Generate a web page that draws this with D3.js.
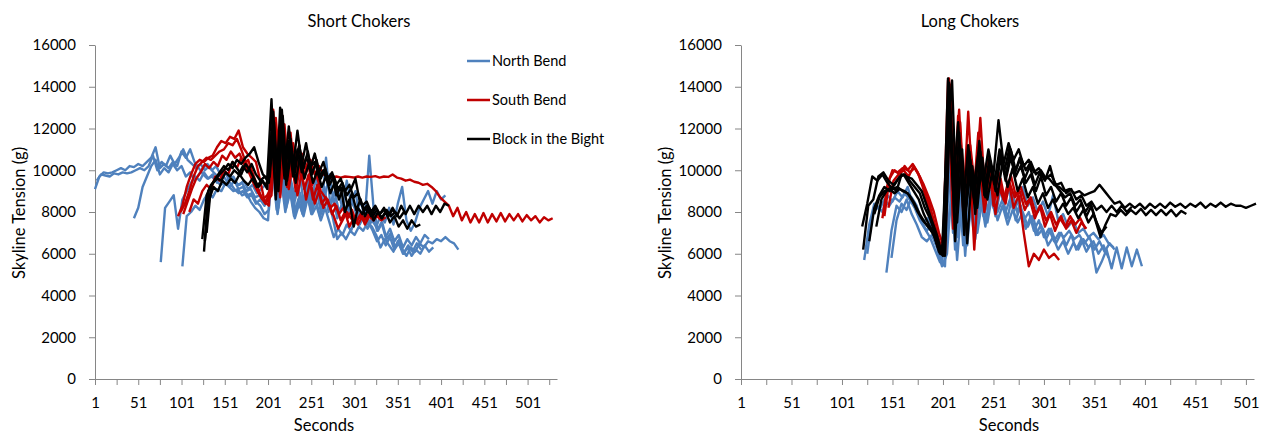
<!DOCTYPE html>
<html>
<head>
<meta charset="utf-8">
<script src="https://cdn.jsdelivr.net/npm/d3@7.9.0/dist/d3.min.js"></script>
<style>
  body { margin: 0; background: #fff; }
  text { font-family: Lato, "Liberation Sans", sans-serif; fill: #000; }
</style>
</head>
<body>
<svg id="chart" width="1261" height="435"></svg>
<script>
// sampling interval of every series (seconds)
const STEP = 5;

const groups = ['North Bend', 'South Bend', 'Block in the Bight'];
const yTicks = [0, 2000, 4000, 6000, 8000, 10000, 12000, 14000, 16000];
const xLabels = [1, 51, 101, 151, 201, 251, 301, 351, 401, 451, 501];

// ---- Short chokers ----
// North Bend
const snb1 = [9100,9700,9900,9850,9900,10000,10100,10000,10200,10150,10300,10200,10400,10600,11100,10100,10300,10100,10400,10200,10900,10600,11000,10400,10100,9800,9600,9700,9500,9300,9400,9200,9000,9100,8800,8900,8500,8200,8000,7700,7600,10900,8300,10100,8700,9800,8400,9200,8100,8900,7900,8600,7800,8300,8500,7700,6700,7000,6700,7100,6900,7300,7100,7500,7300,6900,6300,6700,6400,6100,6600,6200,5900,6300,6100,6500,6300,6600,6500,6700,6600,6800,6600,6500,6200];
const snb2 = [9500,9800,9750,9700,9850,9800,9900,9850,9900,10000,10100,10000,10200,10700,10000,10400,10200,10700,10300,10600,11000,10500,10300,10100,10300,10000,10200,9900,9700,9800,9500,9700,9400,9300,9500,9100,9300,8900,9100,9300,9500,11600,8200,10500,8600,9300,8000,8900,8100,9600,8300,9000,8100,10600,8300,9000,8000,8500,7800,8700,8000,8500,7800,10700,8200,7100,7500,6700,7000,6300,6700,6000,6400,6100,6500,6200];
const snb3 = [7700,8200,9200,9700,10200,10500,9800,10100,9900,10300,10000,10200,9700,9900,9500,9800,10100,10300,10000,10200,9800,10000,9500,9700,9300,9400,9000,9100,8700,8800,8500,8600,10200,8100,9600,8000,9100,7800,8600,7900,9300,8200,9700,8400,9200,8000,8800,7700,8300,7900,8600,8200,7400,7700,7200,7600,7300,7800,7500,8200,7400,8400,9200,7600,7100,7500,8200,8600,9000,8400,9000,8600,8800];
const snb4 = [5600,8200,8500,8800,7200,8600,9000,9400,9700,9500,9900,9600,9800,9400,9600,9300,9400,9100,8900,9000,8700,8800,8400,8600,8300,8800,9900,7900,9400,8200,9000,7700,8400,7800,8700,7900,8300,7600,8200,7500,6800,7200,6900,7400,7100,7700,7400,7900,7500,7100,6600,6900,6400,6800,6200,6500,6000,6300,5900,6200,6000,6400,6100,6300];
const snb5 = [5400,7800,8000,8300,8100,8600,8900,8700,9100,9000,9400,9200,9500,9100,9200,8800,8900,8500,8300,7900,8100,11200,8800,10400,8400,9600,8700,10000,8500,9400,8200,9100,8000,8800,9800,8400,9000,8200,9500,8400,9000,7700,8200,7400,7900,7100,7500,6800,7200,6600,6900,6300,6700,6400,6800,6500,6900,6700];
// South Bend
const ssb1 = [8000,8400,9000,9700,10200,10400,10600,10500,10700,10900,11000,11300,11200,11500,11000,10400,10000,9500,9000,8600,8800,9200,12500,9800,12200,9700,11300,10000,10800,9900,10500,9800,10200,9800,9700,9650,9700,9650,9700,9680,9650,9700,9650,9700,9680,9720,9650,9700,9680,9800,9650,9600,9500,9550,9450,9400,9300,9350,9200,9000,8700,8500,8300,7800,8200,7600,8000,7500,7900,7500,7950,7500,7900,7550,7950,7550,7900,7600,7900,7550,7850,7600,7800,7500,7750,7600,7700];
const ssb2 = [7800,8300,9200,9800,10300,10500,10400,10600,10700,11100,11400,11300,11600,11500,11900,11100,10800,10600,10400,9500,8500,8300,12900,9500,12700,9800,11800,9500,11200,9600,10400,9300,9800,9000,8700,8300,7800,7200,7600,8000,7700,7500,7800,7600,7900,7700,7800,7600,7750];
const ssb3 = [7900,8500,9100,9600,9900,10300,10100,10400,10200,10700,10500,10900,10600,10800,10300,10500,9900,9300,8700,8400,9000,11600,9000,11000,9200,10600,9000,10200,9100,9800,8600,9300,8400,8700,8200,8400,7900,8200,7700,8100,7500,7900,7400,7800,7600,7900,7700];
const ssb4 = [8000,8600,8400,9000,9300,9100,9700,9500,10000,9800,10400,10100,10600,10200,9800,9300,8900,8600,8500,8800,12000,8700,11000,9100,10400,8800,9900,8600,9500,8400,9000,8200,8600,7900,8300,7600,8000,7300,7700,7400,7800,7600,8000,7700];
// Block in the Bight
const sbb1 = [6700,8800,9300,9500,9800,10000,10300,10100,10500,10300,10600,10800,11100,10400,9800,9600,13400,8600,13000,9800,12100,10200,11900,10300,11300,10100,10800,9900,10400,9600,9900,9300,9600,9000,9300,8700,8900,8300,8500,8000,8300,7900,8200,7800,8200,7800,8300,7900,8300,7900,8300,8000,8300,7900,8300,8000,8400,8300];
const sbb2 = [6100,9000,9400,9600,9500,9900,9700,10000,9800,10200,9900,10300,9800,9500,9700,9400,12800,9200,12900,9300,11500,9900,11200,10100,10900,9800,10500,9600,10100,9300,9700,9100,9400,8800,9100,9600,8500,8200,8000,7800,8100,7700,8000,7500,7800,7300,7600,7200,7600,7300,7400];
const sbb3 = [6600,8600,9200,9000,9500,9300,9600,9400,9800,9500,9300,9600,9200,9500,9300,9700,12300,9000,12600,9500,11000,9400,10700,9600,10300,9400,10000,9200,9700,8900,9400,8600,9200,8300,8900,8100,8600,7800,8200,7600,8000,7700,8100,7800,8000,7700,8000];
const sbb4 = [7000,9200,9600,9900,10200,10000,10400,10100,9800,10300,10000,9600,9200,9500,9100,11800,8800,12200,9600,11400,9700,11000,9900,10600,10200,10400,9700,10000,9400,9800,8800,9200,8000,8600,7300,8200,7900,8300,7800,8200,7900,8100,7800,8100,7900];

// ---- Long chokers ----
// North Bend
const lnb1 = [5700,7400,8400,8100,8600,8300,8700,8500,8900,8600,8200,7600,7200,6800,6200,5600,5400,11000,6200,9800,5900,9200,6700,8800,7300,9000,7800,9100,8000,8700,7600,8300,7200,7800,6900,7400,6700,7200,6500,7000,6400,6900,6200,6700,6100,6500,5100,5600,6200,5300,6300,5300,6300,5400,6200,5400];
const lnb2 = [6000,7800,8300,8000,8800,8500,9000,8700,9200,8400,8000,7500,7700,7000,6300,5900,10500,7000,10000,6400,9500,7200,9700,7800,9200,8200,9500,8400,9100,8000,8600,7600,8000,7100,7600,6800,7200,6600,7000,6800,7100,6700,6900,6500,6800,6200,6600,6100,6500,6200];
const lnb3 = [5100,7100,8300,8000,8600,7900,7400,6800,6600,6900,6300,5400,6000,9500,5700,8800,6400,9200,7000,8600,7500,8900,7600,8300,7400,8100,7500,8000,7300,7800,6900,7200,6400,6800,6200,6600,6000,6500,6200,6700,6300,6600,6000,6400,5800];
const lnb4 = [5800,7600,8400,8100,8700,8300,7500,7100,7400,6600,5600,7200,8800,6800,9300,7100,8400,7900,9000,8100,9200,8000,8600,7700,8900,7900,9200,8300,8700,8000,8500,7800,8800,7600,7900,7300,7600,7000,7200,6800,7000,6700,6900,6500,6300];
// South Bend
const lsb1 = [7700,9300,10000,9900,10100,10000,10300,9900,9200,8400,7600,6800,6100,14300,7200,12600,8000,12800,8500,11800,8900,10700,8300,9900,8600,9500,8200,8800,7000,5400,6000,5700,6200,5800,6000,5700];
const lsb2 = [7800,9600,10000,9800,10200,9900,10100,9700,9000,8300,7400,6400,6000,14100,8700,12300,7900,11200,9000,12500,8500,10200,7900,9600,8400,9800,8800,9200,8400,8700,7900,8300,7600,8000,7400,7800,7200,7600,7000,7500,7200];
const lsb3 = [8200,9500,9800,10000,9700,10200,9800,9300,8700,8000,7000,6300,14400,9000,12900,8300,11000,6200,10300,8000,9500,8600,9100,8500,9400,8700,9000,8100,8600,7700,8300,7300,7900,7100,7700,7300,7800,7400,7700,7200];
// Block in the Bight
const lbb1 = [7300,8400,9700,9500,9800,9400,9100,9200,9000,8900,8500,8000,7600,7300,7000,6300,5900,14400,9000,12300,8200,11200,9100,10800,9400,11000,9800,12400,10300,11300,10500,11000,10200,10500,9900,10100,9700,9600,9300,9200,9000,9100,8900,9000,8800,8900,9000,9300,9000,8700,8400,8500,8200,8400,8200,8400,8150,8400,8200,8400,8200,8450,8250,8400,8200,8400,8250,8450,8200,8400,8250,8450,8250,8400,8300,8300,8200,8300,8400];
const lbb2 = [6200,8300,8600,9700,9900,9500,9300,9600,9800,9400,9000,8600,7900,7400,7000,6100,6000,14200,7800,11800,6900,10900,8500,11400,8800,10600,9400,11000,10000,11100,9800,10600,9600,10200,9300,9900,9500,10200,9300,9000,8700,8900,8300,8600,8000,8400,7600,6800,7400,7900,7800,8100,7850,8100,7900,8150,7850,8100,7850,8100,7850,8100,7800,8050,7900];
const lbb3 = [6600,8200,8800,9200,9000,9300,9700,9800,9500,9200,8900,8200,7700,7000,6200,6600,13500,6600,11200,7500,10500,7900,10900,8700,10300,9000,10800,9500,10600,9700,10200,9400,9800,9000,9700,8800,9200,8500,8900,8300,8700,8000,8400,7800,8300,7500,7000,7300];
const lbb4 = [7300,8600,9000,9200,9000,9800,9700,9600,9300,9000,8300,7600,6900,6000,11500,14300,7500,11000,6500,10200,8200,10600,8600,10000,8800,10400,9200,10100,9000,9600,8700,9200,8400,8900,8200,8600,8000,8400,7900,8200,7700,8100,7500,7900,7300];
const lbb5 = [7900,8700,9000,9100,8900,9100,9000,8800,8400,7900,7500,7200,6800,6000,5900,12800,8800,10500,8000,9800,8300,10000,8900,10200,9200,10500,9700,11000,10000,10600,10000,10400,9800,10000,9600,9800,9300,9400,8900,9100,8600,8800,8300,8500,8100,8300,8000,8300,8000,8300,8000,8250];

// first second of each series
const shortSeries = [[snb1, snb2, snb3, snb4, snb5], [ssb1, ssb2, ssb3, ssb4], [sbb1, sbb2, sbb3, sbb4]];
const shortStarts = [[1, 3, 46, 77, 102], [100, 97, 103, 110], [125, 127, 128, 130]];
const longSeries = [[lnb1, lnb2, lnb3, lnb4], [lsb1, lsb2, lsb3], [lbb1, lbb2, lbb3, lbb4, lbb5]];
const longStarts = [[123, 126, 145, 150], [141, 143, 147], [121, 122, 128, 135, 133]];

const colors = d3.scaleOrdinal().domain(groups).range(['#4f81bd', '#c00000', '#000000']);

const svg = d3.select('#chart');

function drawPanel(p) {
  const x = d3.scaleLinear().domain([1, p.xMax]).range([p.left, p.right]);
  const y = d3.scaleLinear().domain([0, 16000]).range([379, 45]);
  const g = svg.append('g');

  const minorTicks = d3.range(1, p.xMax + 1, 25);

  const yAxis = g.append('g')
    .attr('transform', `translate(${p.left},0)`)
    .call(d3.axisLeft(y).tickValues(yTicks).tickSize(6).tickSizeOuter(0).tickPadding(13)
      .tickFormat(d3.format('d')));
  const xAxis = g.append('g')
    .attr('transform', 'translate(0,379)')
    .call(d3.axisBottom(x).tickValues(minorTicks).tickSize(6).tickSizeOuter(0).tickPadding(12)
      .tickFormat(d => xLabels.includes(d) ? d : ''));
  [yAxis, xAxis].forEach(a => {
    a.selectAll('path, line').attr('stroke', '#868686');
    a.selectAll('text').attr('font-size', 15).attr('fill', '#000');
  });

  // the lines: blue first, black last
  const line = d3.line().x(d => x(d[0])).y(d => y(d[1]));
  p.series.forEach((grp, gi) => {
    grp.forEach((vals, si) => {
      const start = p.starts[gi][si];
      const pts = vals.map((v, i) => [start + i * STEP, v]);
      g.append('path')
        .attr('d', line(pts))
        .attr('fill', 'none')
        .attr('stroke', colors(groups[gi]))
        .attr('stroke-width', 2.4)
        .attr('stroke-linejoin', 'round');
    });
  });

  g.append('text').attr('x', p.titleX).attr('y', 27)
    .attr('text-anchor', 'middle').attr('font-size', 16.5).text(p.title);
  g.append('text').attr('x', p.xTitleX).attr('y', 431)
    .attr('text-anchor', 'middle').attr('font-size', 16.5).text('Seconds');
  g.append('text')
    .attr('transform', `translate(${p.yTitleX},213) rotate(-90)`)
    .attr('text-anchor', 'middle').attr('font-size', 16.5).text('Skyline Tension (g)');
}

drawPanel({ title: 'Short Chokers', left: 95, right: 557, xMax: 535, titleX: 359, xTitleX: 324, yTitleX: 25,
  series: shortSeries, starts: shortStarts });
drawPanel({ title: 'Long Chokers', left: 741, right: 1254, xMax: 509, titleX: 970, xTitleX: 1009, yTitleX: 671,
  series: longSeries, starts: longStarts });

// legend
const legend = svg.append('g');
groups.forEach((name, i) => {
  const ly = [61, 100, 139][i];
  legend.append('line').attr('x1', 467).attr('x2', 490).attr('y1', ly).attr('y2', ly)
    .attr('stroke', colors(name)).attr('stroke-width', 2.5);
  legend.append('text').attr('x', 492).attr('y', ly + 5).attr('font-size', 14.5).text(name);
});
</script>
</body>
</html>
